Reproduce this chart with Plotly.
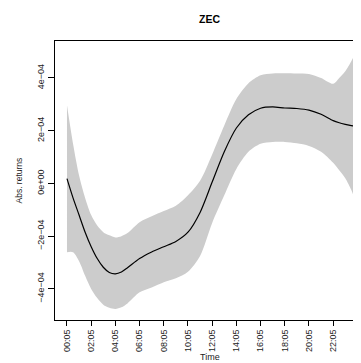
import plotly.graph_objects as go

# hours since 00:05 (last point = 23:55)
horas = [0, 0.5, 1, 1.5, 2, 2.5, 3, 3.5, 4, 4.5, 5, 6, 7, 8, 9, 10, 11, 12,
         13, 14, 15, 16, 17, 18, 19, 20, 21, 22, 22.5, 23, 23.5, 23.83]

# values in units of 1e-04
media = [0.18, -0.55, -1.2, -1.85, -2.4, -2.85, -3.18, -3.38, -3.43, -3.36, -3.2,
         -2.85, -2.6, -2.4, -2.2, -1.85, -1.1, 0.05, 1.2, 2.1, 2.6, 2.85,
         2.9, 2.86, 2.84, 2.78, 2.62, 2.38, 2.3, 2.24, 2.19, 2.16]
superior = [2.96, 1.5, 0.3, -0.55, -1.2, -1.6, -1.85, -1.97, -2.05, -2.0, -1.88,
            -1.47, -1.25, -1.05, -0.85, -0.45, 0.1, 1.1, 2.2, 3.2, 3.8, 4.1,
            4.17, 4.18, 4.17, 4.15, 4.0, 3.78, 4.0, 4.25, 4.63, 4.93]
inferior = [-2.61, -2.61, -2.95, -3.5, -4.0, -4.35, -4.6, -4.72, -4.76, -4.7, -4.55,
            -4.13, -3.95, -3.75, -3.6, -3.35, -2.75, -1.5, -0.45, 0.55, 1.2, 1.5,
            1.57, 1.57, 1.52, 1.42, 1.2, 0.78, 0.5, 0.2, -0.25, -0.65]

x_ticks = [0, 2, 4, 6, 8, 10, 12, 14, 16, 18, 20, 22]
x_labels = ['00:05', '02:05', '04:05', '06:05', '08:05', '10:05',
            '12:05', '14:05', '16:05', '18:05', '20:05', '22:05']
y_ticks = [-4, -2, 0, 2, 4]
y_labels = ['\u22124e\u221204', '\u22122e\u221204', '0e+00', '2e\u221204', '4e\u221204']

fonte = 'Liberation Sans, Arial, sans-serif'

# the page body adds an 8px offset, so the figure is 8px smaller than the window
largura, altura = 353, 355
m_esq, m_top, m_base = 47, 33, 43

fig = go.Figure()

fig.add_trace(go.Scatter(
    x=horas, y=superior, mode='lines',
    line=dict(width=0, shape='spline', smoothing=0.8),
    hoverinfo='skip', showlegend=False
))
fig.add_trace(go.Scatter(
    x=horas, y=inferior, mode='lines',
    line=dict(width=0, shape='spline', smoothing=0.8),
    fill='tonexty', fillcolor='#cccccc',
    hoverinfo='skip', showlegend=False
))
fig.add_trace(go.Scatter(
    x=horas, y=media, mode='lines',
    line=dict(color='black', width=1.2, shape='spline', smoothing=0.8),
    showlegend=False
))

fig.update_xaxes(
    range=[-0.99, 24.3],
    tickmode='array', tickvals=x_ticks, ticktext=x_labels,
    tickangle=-90, ticks='outside', ticklen=5, tickcolor='black',
    tickfont=dict(size=9, color='#222222', family=fonte),
    showline=True, linecolor='black', linewidth=1, mirror=True,
    showgrid=False, zeroline=False
)
fig.update_yaxes(
    range=[-5.18, 5.40],
    tickmode='array', tickvals=y_ticks, ticktext=y_labels,
    tickangle=-90, ticks='outside', ticklen=6, tickcolor='black',
    tickfont=dict(size=9, color='#222222', family=fonte),
    showline=True, linecolor='black', linewidth=1, mirror=False,
    showgrid=False, zeroline=False
)

alt_plot = altura - m_top - m_base

fig.update_layout(
    width=largura, height=altura,
    plot_bgcolor='white', paper_bgcolor='white',
    margin=dict(l=m_esq, r=0, t=m_top, b=m_base),
    font=dict(family=fonte, color='black'),
    annotations=[
        dict(text='<b>ZEC</b>', x=0.5065, y=1 + (m_top - 11) / alt_plot,
             xref='paper', yref='paper', xanchor='center', yanchor='middle',
             showarrow=False, font=dict(size=10.5, color='black')),
        dict(text='Time', x=0.5065, y=0, xref='paper', yref='paper',
             xanchor='center', yanchor='middle',
             yshift=-37, showarrow=False, font=dict(size=9, color='#222222')),
        dict(text='Abs. returns', x=0, y=0.5, xref='paper', yref='paper',
             xanchor='center', yanchor='middle',
             xshift=-37, textangle=-90, showarrow=False,
             font=dict(size=8.5, color='#222222')),
    ]
)

fig.write_html("out.html")
